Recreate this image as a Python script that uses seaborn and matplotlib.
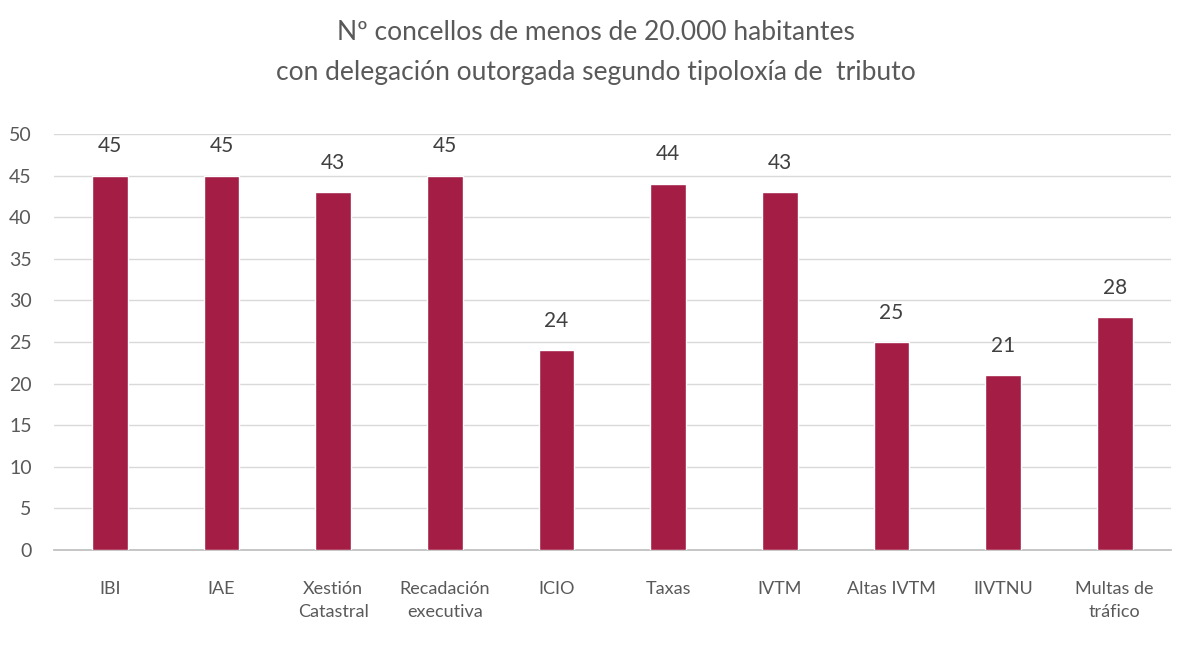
import matplotlib
matplotlib.use("Agg")
import matplotlib.pyplot as plt
import seaborn as sns
import pandas as pd

categories = ["IBI", "IAE", "Xestión\nCatastral", "Recadación\nexecutiva", "ICIO",
              "Taxas", "IVTM", "Altas IVTM", "IIVTNU", "Multas de\ntráfico"]
values = [45, 45, 43, 45, 24, 44, 43, 25, 21, 28]
yticks = [0, 5, 10, 15, 20, 25, 30, 35, 40, 45, 50]
title = "Nº concellos de menos de 20.000 habitantes\ncon delegación outorgada segundo tipoloxía de  tributo"

sns.set_theme(style="white")
plt.rcParams["font.family"] = ["Lato", "DejaVu Sans"]

df = pd.DataFrame({"cat": categories, "val": values})
fig = plt.figure(figsize=(11.92, 6.68), dpi=100)
ax = fig.add_axes([0.0453, 0.1766, 0.9367, 0.6228])
sns.barplot(data=df, x="cat", y="val", color="#A31D45", width=0.32, saturation=1, ax=ax, zorder=3)
ax.set_ylim(0, 50)
ax.set_yticks(yticks)
ax.grid(axis="y", color="#D9D9D9", linewidth=1, zorder=0)
ax.set_axisbelow(True)
for s in ["top", "right", "left"]:
    ax.spines[s].set_visible(False)
ax.spines["bottom"].set_color("#BFBFBF")
ax.tick_params(axis="x", length=0, colors="#595959", labelsize=13, pad=22)
ax.tick_params(axis="y", length=0, colors="#595959", labelsize=14, pad=16)
for lbl in ax.get_xticklabels():
    lbl.set_linespacing(1.55)
ax.set_xlabel("")
ax.set_ylabel("")
for c in ax.containers:
    ax.bar_label(c, padding=14, color="#404040", fontsize=15)
fig.suptitle(title, y=0.97, fontsize=19, color="#595959", linespacing=1.75)
fig.savefig("out.png", dpi=100, facecolor="white")
